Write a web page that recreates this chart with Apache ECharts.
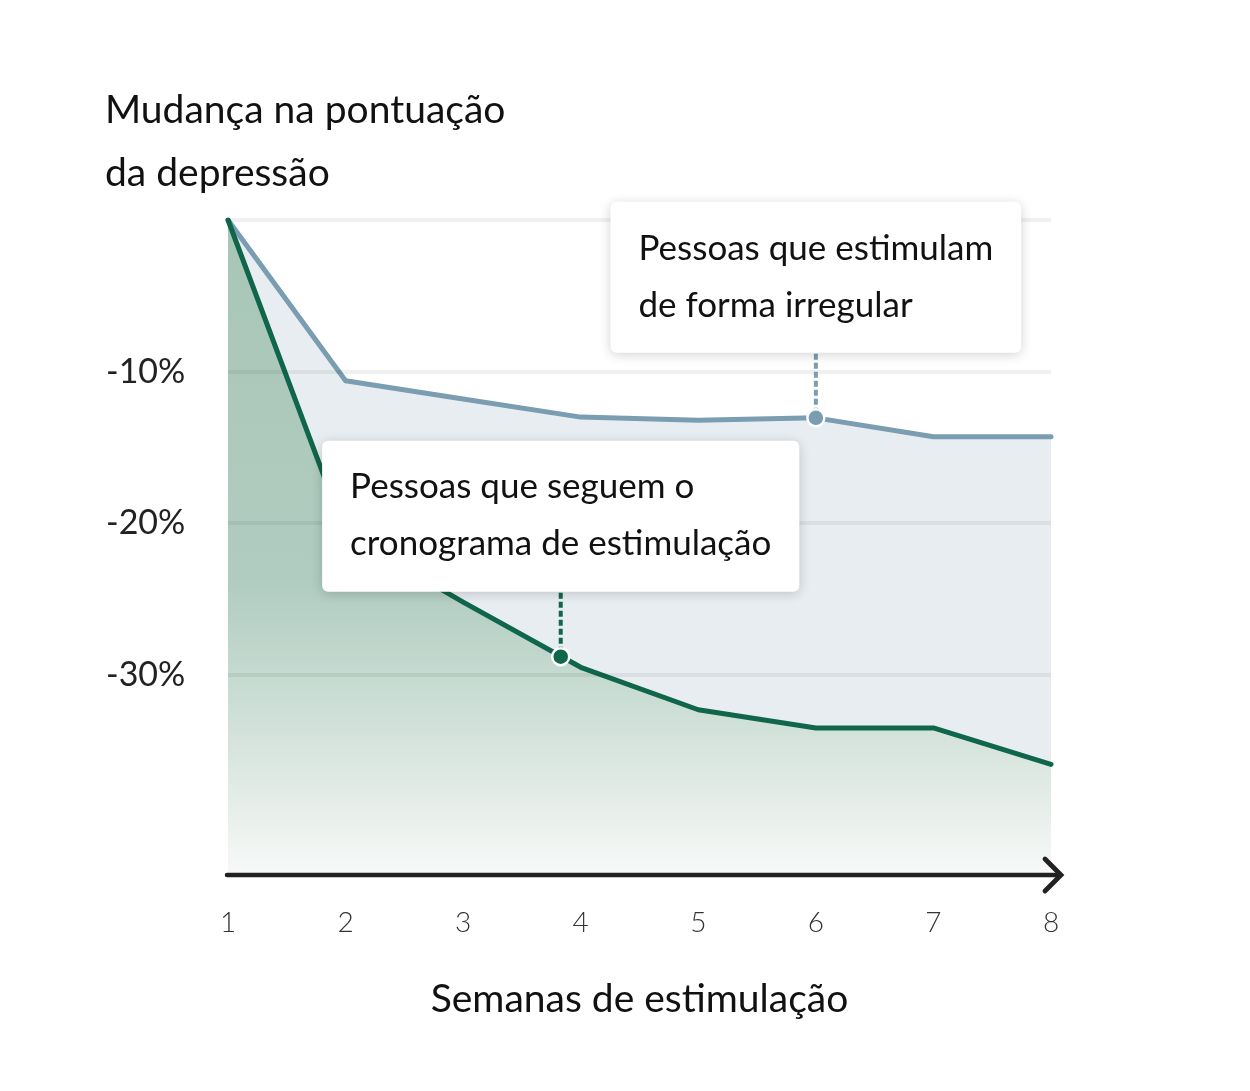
<!DOCTYPE html>
<html>
<head>
<meta charset="utf-8">
<script src="https://cdn.jsdelivr.net/npm/echarts@6/dist/echarts.min.js"></script>
<style>
html,body{margin:0;padding:0;background:#fff;}
#c{width:1250px;height:1091px;}
</style>
</head>
<body>
<div id="c"></div>
<script>
// ---- data ----
const weeks = [1, 2, 3, 4, 5, 6, 7, 8];
const irregular = [0, -10.6, -11.8, -13.0, -13.2, -13.05, -14.3, -14.3];
const onSchedule = [0, -20.7, -25.2, -29.5, -32.3, -33.5, -33.5, -35.9];
const gridValues = [0, -10, -20, -30];
const yTickValues = [-10, -20, -30];
const yTickLabels = ['-10%', '-20%', '-30%'];
const noteX = [6, 3.83];
const noteY = [-13.05, -28.8];
const noteTexts = ['Pessoas que estimulam\nde forma irregular', 'Pessoas que seguem o\ncronograma de estimulação'];
const titleText = 'Mudança na pontuação\nda depressão';
const xName = 'Semanas de estimulação';

const Y_MIN = -43.2;
const BLUE = '#7a9db1';
const GREEN = '#10664a';
const noteColors = [BLUE, GREEN];
const FONT = 'Lato, "Noto Sans", sans-serif';
const NOTE_FONT = 'normal 35px ' + FONT;
const PAD_X = 28;

const measureCtx = document.createElement('canvas').getContext('2d');
function textWidth(str, font) {
  measureCtx.font = font;
  return Math.max.apply(null, str.split('\n').map(s => measureCtx.measureText(s).width));
}

const chart = echarts.init(document.getElementById('c'));
chart.setOption({
  animation: false,
  backgroundColor: '#fff',
  title: {
    text: titleText, left: 105, top: 79, padding: 0,
    textStyle: {fontFamily: FONT, fontSize: 39, fontWeight: 'normal', color: '#111', lineHeight: 63}
  },
  grid: {left: 228, right: 199, top: 220, bottom: 216, containLabel: false},
  xAxis: {
    type: 'value', min: 1, max: 8, interval: 1,
    name: xName, nameLocation: 'middle', nameGap: 105,
    nameTextStyle: {fontFamily: FONT, fontSize: 39, fontWeight: 'normal', color: '#111'},
    axisLine: {show: false},
    axisTick: {show: false},
    splitLine: {show: false},
    axisLabel: {margin: 34, fontFamily: FONT, fontSize: 28, fontWeight: 300, color: '#333'}
  },
  yAxis: {
    type: 'value', min: Y_MIN, max: 0, splitNumber: 5,
    axisLine: {show: false}, axisTick: {show: false}, splitLine: {show: false},
    axisLabel: {
      margin: 122, align: 'left', fontFamily: FONT, fontSize: 34, fontWeight: 'normal', color: '#222',
      formatter: function (v) {
        const i = yTickValues.indexOf(Math.round(v * 100) / 100);
        return i >= 0 ? yTickLabels[i] : '';
      }
    }
  },
  series: [
    {
      type: 'line', z: 2,
      data: weeks.map((w, i) => [w, irregular[i]]),
      symbol: 'none',
      lineStyle: {color: BLUE, width: 5, join: 'round', cap: 'round'},
      areaStyle: {origin: 'start', color: '#e8edf1', opacity: 1}
    },
    {
      type: 'line', z: 3,
      data: weeks.map((w, i) => [w, onSchedule[i]]),
      symbol: 'none',
      lineStyle: {color: GREEN, width: 5, join: 'round', cap: 'round'},
      areaStyle: {
        origin: 'start', opacity: 1,
        color: new echarts.graphic.LinearGradient(0, 0, 0, 1, [
          {offset: 0, color: '#a8c6b8'},
          {offset: 0.55, color: '#b0ccc0'},
          {offset: 0.75, color: '#cddfd6'},
          {offset: 0.9, color: '#e7eeea'},
          {offset: 1, color: '#f7f9f8'}
        ])
      }
    },
    {
      type: 'line', z: 5, data: [], silent: true,
      markLine: {
        silent: true, symbol: 'none', animation: false,
        label: {show: false},
        lineStyle: {color: 'rgba(0,0,0,0.06)', width: 4, type: 'solid'},
        data: gridValues.map(v => ({yAxis: v}))
      }
    },
    {
      // x axis line with open arrow head
      type: 'custom', z: 8, silent: true, clip: false,
      data: [[weeks[0], Y_MIN]],
      renderItem: function (params, api) {
        const a = api.coord([weeks[0], Y_MIN]);
        const b = api.coord([weeks[weeks.length - 1], Y_MIN]);
        const tipX = b[0] + 10;
        return {
          type: 'group',
          children: [
            {type: 'line', shape: {x1: a[0] - 1, y1: a[1], x2: tipX - 1, y2: b[1]},
              style: {stroke: '#222', lineWidth: 4.5, lineCap: 'round'}},
            {type: 'polyline', shape: {points: [[tipX - 16, b[1] - 16], [tipX, b[1]], [tipX - 16, b[1] + 16]]},
              style: {stroke: '#222', fill: null, lineWidth: 4.8, lineCap: 'round', lineJoin: 'miter'}}
          ]
        };
      }
    },
    {
      type: 'custom', z: 10, silent: true, clip: false,
      data: noteX.map((x, i) => [x, noteY[i]]),
      renderItem: function (params, api) {
        const p = api.coord([api.value(0), api.value(1)]);
        const i = params.dataIndex;
        const color = noteColors[i];
        const gap = 65;
        const w = textWidth(noteTexts[i], NOTE_FONT) + 2 * PAD_X;
        return {
          type: 'group',
          children: [
            {type: 'line', shape: {x1: p[0], y1: p[1] - 4, x2: p[0], y2: p[1] - gap},
              style: {stroke: color, lineWidth: 4, lineDash: [6, 3]}},
            {type: 'circle', shape: {cx: p[0], cy: p[1], r: 8.5},
              style: {fill: color, stroke: '#fff', lineWidth: 2.5}},
            {type: 'text', z2: 20,
              style: {
                x: p[0] - w / 2, y: p[1] - gap,
                text: noteTexts[i],
                align: 'left', verticalAlign: 'bottom',
                font: NOTE_FONT, lineHeight: 57,
                fill: '#111',
                backgroundColor: '#fff', borderRadius: 6,
                padding: [18, PAD_X, 19, PAD_X],
                shadowBlur: 12, shadowColor: 'rgba(0,0,0,0.18)', shadowOffsetY: 2
              }}
          ]
        };
      }
    }
  ]
});
</script>
</body>
</html>
